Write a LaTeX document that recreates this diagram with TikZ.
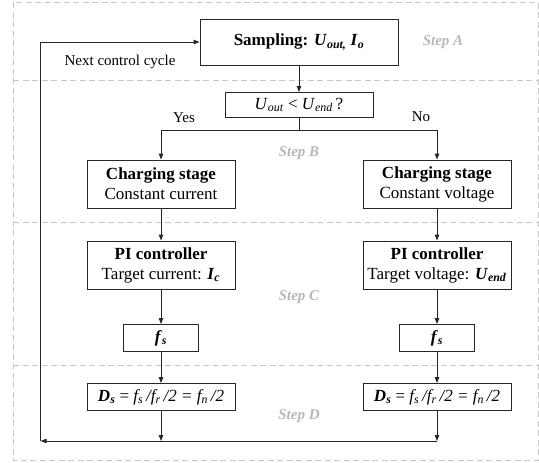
\documentclass[tikz,border=0pt]{standalone}
\usepackage{fontspec}
\setmainfont{Liberation Serif}
\usepackage{tikz}
\usetikzlibrary{arrows.meta}
\usetikzlibrary{calc}
\newcommand{\vsub}[2]{\textit{#1}\textsubscript{\textit{#2}}}
\tikzset{
    box/.style={draw=black!85, line width=0.9pt, fill=white, align=center, inner sep=0pt, font=\fontsize{17}{20}\selectfont},
    frameline/.style={draw=black!22, line width=1pt, dash pattern=on 6pt off 3.5pt},
    steplabel/.style={text=black!28, font=\fontsize{15}{18}\selectfont\bfseries\itshape},
    sidelabel/.style={font=\fontsize{15}{18}\selectfont},
    flow/.style={draw=black!85, line width=0.9pt}
}

\begin{document}
\begin{tikzpicture}[x=1pt, y=-1pt, >={Triangle[length=6pt,width=4.5pt]}]
\useasboundingbox (0,0) rectangle (539,463);
% step frames
\draw[frameline] (13,2) rectangle (538,460);
\foreach \y in {80,222,365}{
    \draw[frameline] (13,\y) -- (538,\y);
}
\foreach \n/\x/\y/\t in {stepa/443/42/A, stepb/299/153/B, stepc/299/297/C, stepd/299/416/D}{
    \node[steplabel] (\n) at (\x,\y) {Step \t};
}
% boxes
\node[box, minimum width=198pt, minimum height=46pt] (samp) at (299,42) {\textbf{Sampling: \vsub{U}{out,} \vsub{I}{o}}};
\node[box, minimum width=148pt, minimum height=25pt] (cond) at (299,105) {\vsub{U}{out} < \vsub{U}{end}\,?};
\node[box, minimum width=148pt, minimum height=48pt] (cc) at (161,184) {\textbf{Charging stage}\\Constant current};
\node[box, minimum width=148pt, minimum height=48pt] (cv) at (437,184) {\textbf{Charging stage}\\Constant voltage};
\node[box, minimum width=148pt, minimum height=48pt] (pic) at (161,265) {\textbf{PI controller}\\Target current: \textbf{\vsub{I}{c}}};
\node[box, minimum width=148pt, minimum height=48pt] (piv) at (437,265) {\textbf{PI controller}\\Target voltage: \textbf{\vsub{U}{end}}};
\node[box, minimum width=75pt, minimum height=27pt] (fsc) at (161,338) {\textbf{\vsub{f}{s}}};
\node[box, minimum width=75pt, minimum height=27pt] (fsv) at (437,338) {\textbf{\vsub{f}{s}}};
\node[box, minimum width=148pt, minimum height=27pt] (dsc) at (161,397) {\textbf{\vsub{D}{s}} = \textit{f\textsubscript{s}\,/f\textsubscript{r}\,/2 = f\textsubscript{n}\,/2}};
\node[box, minimum width=148pt, minimum height=27pt] (dsv) at (437,397) {\textbf{\vsub{D}{s}} = \textit{f\textsubscript{s}\,/f\textsubscript{r}\,/2 = f\textsubscript{n}\,/2}};
\node[sidelabel] (yes) at (184,118) {Yes};
\node[sidelabel] (no) at (421,117) {No};
\node[sidelabel] (next) at (120,62) {Next control cycle};
\coordinate (split) at (299,130);
\coordinate (botl) at (40.6,441);
\coordinate (botr) at (437,441);
% connectors
\draw[flow, ->] (samp) -- (cond);
\draw[flow] (cond) -- (split);
\draw[flow, ->] (split) -| (cc);
\draw[flow, ->] (split) -| (cv);
\draw[flow, ->] (cc) -- (pic);
\draw[flow, ->] (cv) -- (piv);
\draw[flow, ->] (pic) -- (fsc);
\draw[flow, ->] (piv) -- (fsv);
\draw[flow, ->] (fsc) -- (dsc);
\draw[flow, ->] (fsv) -- (dsv);
\draw[flow, ->] (dsc.south) -- (dsc.south |- botl);
\draw[flow, ->] (dsv.south) -- (botr);
\draw[flow, ->] (botr) -- (botl);
\draw[flow, ->] (botl) |- (samp);
\end{tikzpicture}
\end{document}
